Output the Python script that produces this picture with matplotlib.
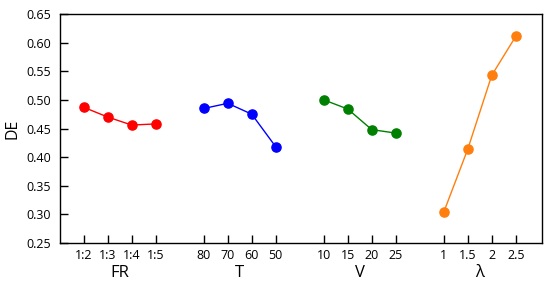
import matplotlib
matplotlib.use("Agg")
import matplotlib.pyplot as plt

plt.rcParams['font.family'] = ['Open Sans', 'DejaVu Sans']

fr_labels = ["1:2", "1:3", "1:4", "1:5"]
fr_vals = [0.487, 0.470, 0.456, 0.458]
t_labels = ["80", "70", "60", "50"]
t_vals = [0.485, 0.494, 0.475, 0.418]
v_labels = ["10", "15", "20", "25"]
v_vals = [0.500, 0.484, 0.448, 0.442]
l_labels = ["1", "1.5", "2", "2.5"]
l_vals = [0.304, 0.414, 0.543, 0.611]

groups = [("FR", fr_labels, fr_vals, "#ff0000"),
          ("T", t_labels, t_vals, "#0000ff"),
          ("V", v_labels, v_vals, "#008000"),
          ("λ", l_labels, l_vals, "#ff7f0e")]

fig = plt.figure(figsize=(5.5, 2.84), dpi=100)
ax = fig.add_axes([60/550, 1-243/284, (541.7-60)/550, (243-14)/284])

xticks, xlabels = [], []
for gi, (name, labs, vals, col) in enumerate(groups):
    xs = [gi*5 + i for i in range(len(vals))]
    ax.plot(xs, vals, '-o', color=col, markersize=6.6, linewidth=1.0)
    xticks += xs
    xlabels += labs
    ax.text(gi*5 + 1.5, -0.131, name, transform=ax.get_xaxis_transform(),
            ha='center', va='center', fontsize=12)

ax.set_xticks(xticks)
ax.set_xticklabels(xlabels, fontsize=9)
ax.set_xlim(-0.99, 19.08)
ax.set_ylim(0.25, 0.65)
ax.set_yticks([0.25, 0.30, 0.35, 0.40, 0.45, 0.50, 0.55, 0.60, 0.65])
ax.set_yticklabels([f"{v:.2f}" for v in ax.get_yticks()], fontsize=9)
ax.set_ylabel("DE", fontsize=11.5, labelpad=4)
ax.tick_params(direction='in', length=5.8, width=1)
ax.tick_params(axis='x', pad=4.2)
ax.tick_params(axis='y', pad=6.5)
for s in ax.spines.values():
    s.set_linewidth(1)

fig.savefig("out.png", dpi=100)
